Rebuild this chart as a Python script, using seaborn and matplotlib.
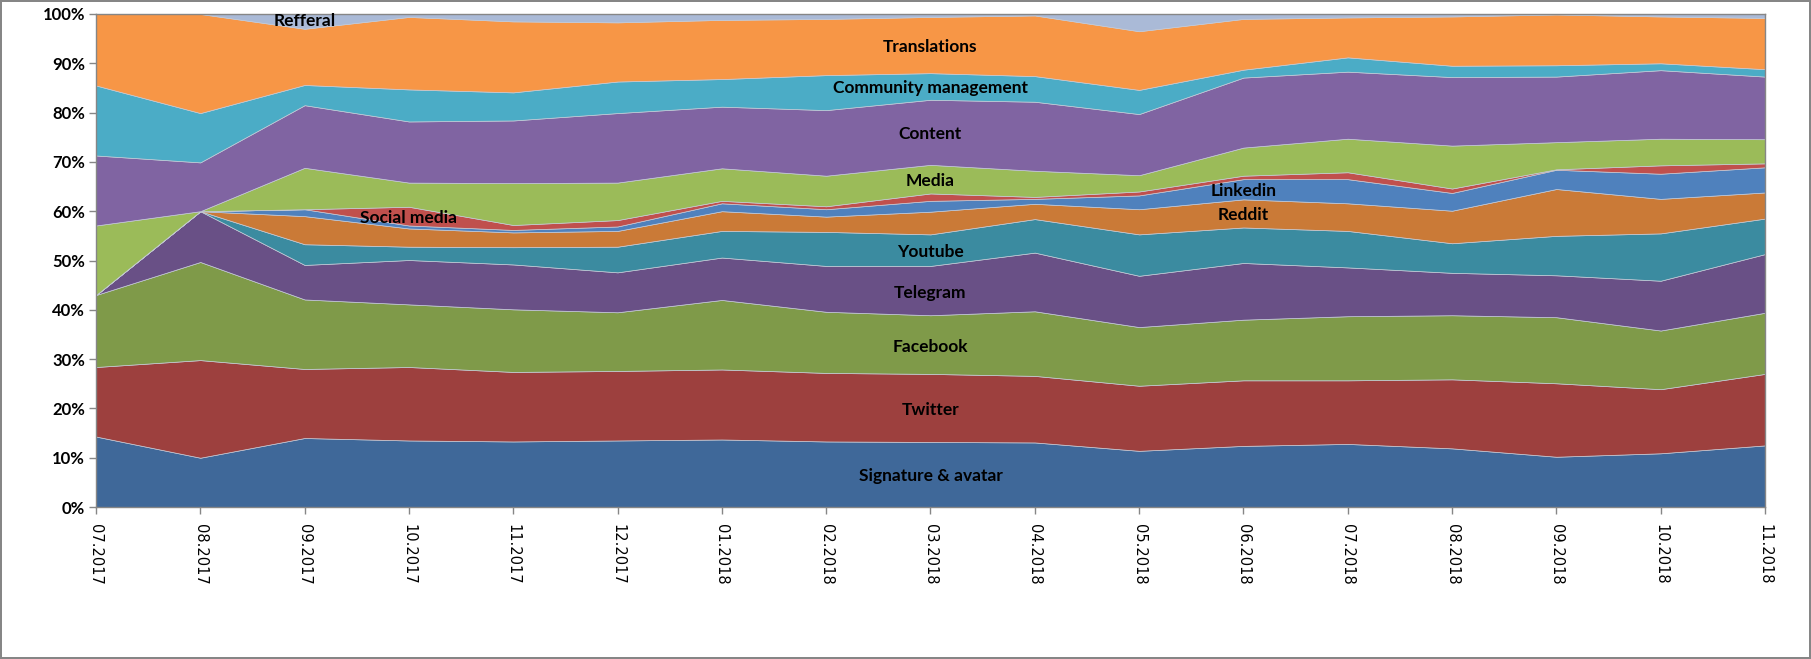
import numpy as np
import pandas as pd
import seaborn as sns
import matplotlib.pyplot as plt

# months on the x axis
months = ['07.2017', '08.2017', '09.2017', '10.2017', '11.2017', '12.2017',
          '01.2018', '02.2018', '03.2018', '04.2018', '05.2018', '06.2018',
          '07.2018', '08.2018', '09.2018', '10.2018', '11.2018']

# share of each activity per month, in %, bottom to top of the stack
signature = [14.3, 10.0, 14.0, 13.5, 13.3, 13.5, 13.7, 13.3, 13.2, 13.1, 11.4, 12.4, 12.8, 11.9, 10.2, 10.9, 12.5]
twitter = [14.1, 19.8, 14.0, 14.9, 14.1, 14.1, 14.2, 13.9, 13.8, 13.5, 13.2, 13.3, 12.9, 14.0, 14.9, 13.0, 14.5]
facebook = [14.6, 19.9, 14.1, 12.7, 12.7, 11.9, 14.1, 12.4, 11.9, 13.1, 11.9, 12.3, 13.0, 13.0, 13.4, 11.9, 12.4]
telegram = [0.0, 10.3, 7.0, 9.0, 9.1, 8.1, 8.6, 9.3, 10.0, 11.9, 10.4, 11.5, 9.9, 8.6, 8.5, 10.1, 11.9]
youtube = [0.0, 0.0, 4.2, 2.7, 3.5, 5.2, 5.4, 6.9, 6.4, 6.8, 8.4, 7.2, 7.4, 6.0, 8.0, 9.6, 7.2]
reddit = [0.0, 0.0, 5.7, 3.7, 3.0, 3.2, 4.0, 3.1, 4.6, 3.1, 5.1, 5.7, 5.6, 6.6, 9.5, 7.0, 5.3]
linkedin = [0.0, 0.0, 1.4, 0.6, 0.5, 0.9, 1.6, 1.5, 2.2, 1.0, 2.8, 4.1, 4.9, 3.6, 3.9, 5.1, 5.1]
social_media = [0.0, 0.0, 0.0, 3.8, 1.0, 1.3, 0.5, 0.6, 1.5, 0.4, 0.8, 0.7, 1.4, 0.9, 0.1, 1.7, 0.8]
media = [14.1, 0.0, 8.4, 4.9, 8.5, 7.6, 6.6, 6.2, 5.8, 5.3, 3.3, 5.7, 6.8, 8.7, 5.5, 5.4, 4.9]
content = [14.2, 9.9, 12.7, 12.4, 12.7, 14.1, 12.5, 13.3, 13.2, 14.0, 12.4, 14.2, 13.6, 13.9, 13.3, 13.9, 12.7]
community = [14.2, 10.0, 4.1, 6.5, 5.7, 6.4, 5.6, 7.1, 5.4, 5.2, 4.9, 1.6, 2.9, 2.3, 2.3, 1.4, 1.5]
translations = [14.5, 20.1, 11.4, 14.7, 14.4, 12.0, 12.0, 11.4, 11.4, 12.3, 11.9, 10.3, 8.1, 10.0, 10.3, 9.5, 10.4]
refferal = [0.0, 0.0, 3.0, 0.6, 1.5, 1.7, 1.2, 1.0, 0.6, 0.3, 3.5, 1.0, 0.7, 0.5, 0.1, 0.5, 0.8]

df = pd.DataFrame({
    'Signature & avatar': signature,
    'Twitter': twitter,
    'Facebook': facebook,
    'Telegram': telegram,
    'Youtube': youtube,
    'Reddit': reddit,
    'Linkedin': linkedin,
    'Social media': social_media,
    'Media': media,
    'Content': content,
    'Community management': community,
    'Translations': translations,
    'Refferal': refferal,
}, index=months)

# 100% stacked, like the excel chart
shares = df.div(df.sum(axis=1), axis=0) * 100

colors = ['#3F6899', '#9D403E', '#7F9A49', '#695086', '#3B8BA0', '#CA7A37', '#4F81BD',
          '#C0504D', '#9BBB59', '#8064A2', '#4BACC6', '#F79646', '#AABAD7']

# which month each in-chart label sits over
label_at = {'Signature & avatar': 8, 'Twitter': 8, 'Facebook': 8, 'Telegram': 8,
            'Youtube': 8, 'Reddit': 11, 'Linkedin': 11, 'Social media': 3,
            'Media': 8, 'Content': 8, 'Community management': 8,
            'Translations': 8, 'Refferal': 2}

sns.set_style('white')
plt.rcParams['font.family'] = ['Lato', 'DejaVu Sans']

fig = plt.figure(figsize=(18.11, 6.59), dpi=100)
fig.patch.set_edgecolor('#868686')
fig.patch.set_linewidth(1.5)
ax = fig.add_axes([0.053, 0.2306, 0.9216, 0.7482])

x = np.arange(len(months))
ax.stackplot(x, shares.T.values, colors=colors, edgecolor='#c4cad6', linewidth=0.5)

# labels in the middle of each band
cum = shares.cumsum(axis=1)
for name, idx in label_at.items():
    top = cum[name].iloc[idx]
    mid = top - shares[name].iloc[idx] / 2
    if name == 'Refferal':
        mid = 99.0
    ax.text(idx, mid - 0.4, name, ha='center', va='center', fontsize=12.5,
            fontweight='bold', color='black', clip_on=False)

ax.set_xlim(0, len(months) - 1)
ax.set_ylim(0, 100)
ax.set_yticks(range(0, 101, 10))
ax.set_yticklabels([f'{v}%' for v in range(0, 101, 10)], fontsize=12,
                   fontweight='bold', color='black')
ax.set_xticks(x)
ax.set_xticklabels(months, rotation=-90, fontsize=10.5, family='DejaVu Sans', color='black')
ax.tick_params(axis='both', direction='out', length=5, width=1, color='#868686',
               left=True, bottom=True)
ax.tick_params(axis='x', pad=7)
ax.tick_params(axis='y', pad=3)
for side in ['left', 'bottom', 'top', 'right']:
    ax.spines[side].set_color('#868686')
    ax.spines[side].set_linewidth(1)

fig.savefig('out.png', dpi=100, edgecolor=fig.get_edgecolor(), facecolor='white')
